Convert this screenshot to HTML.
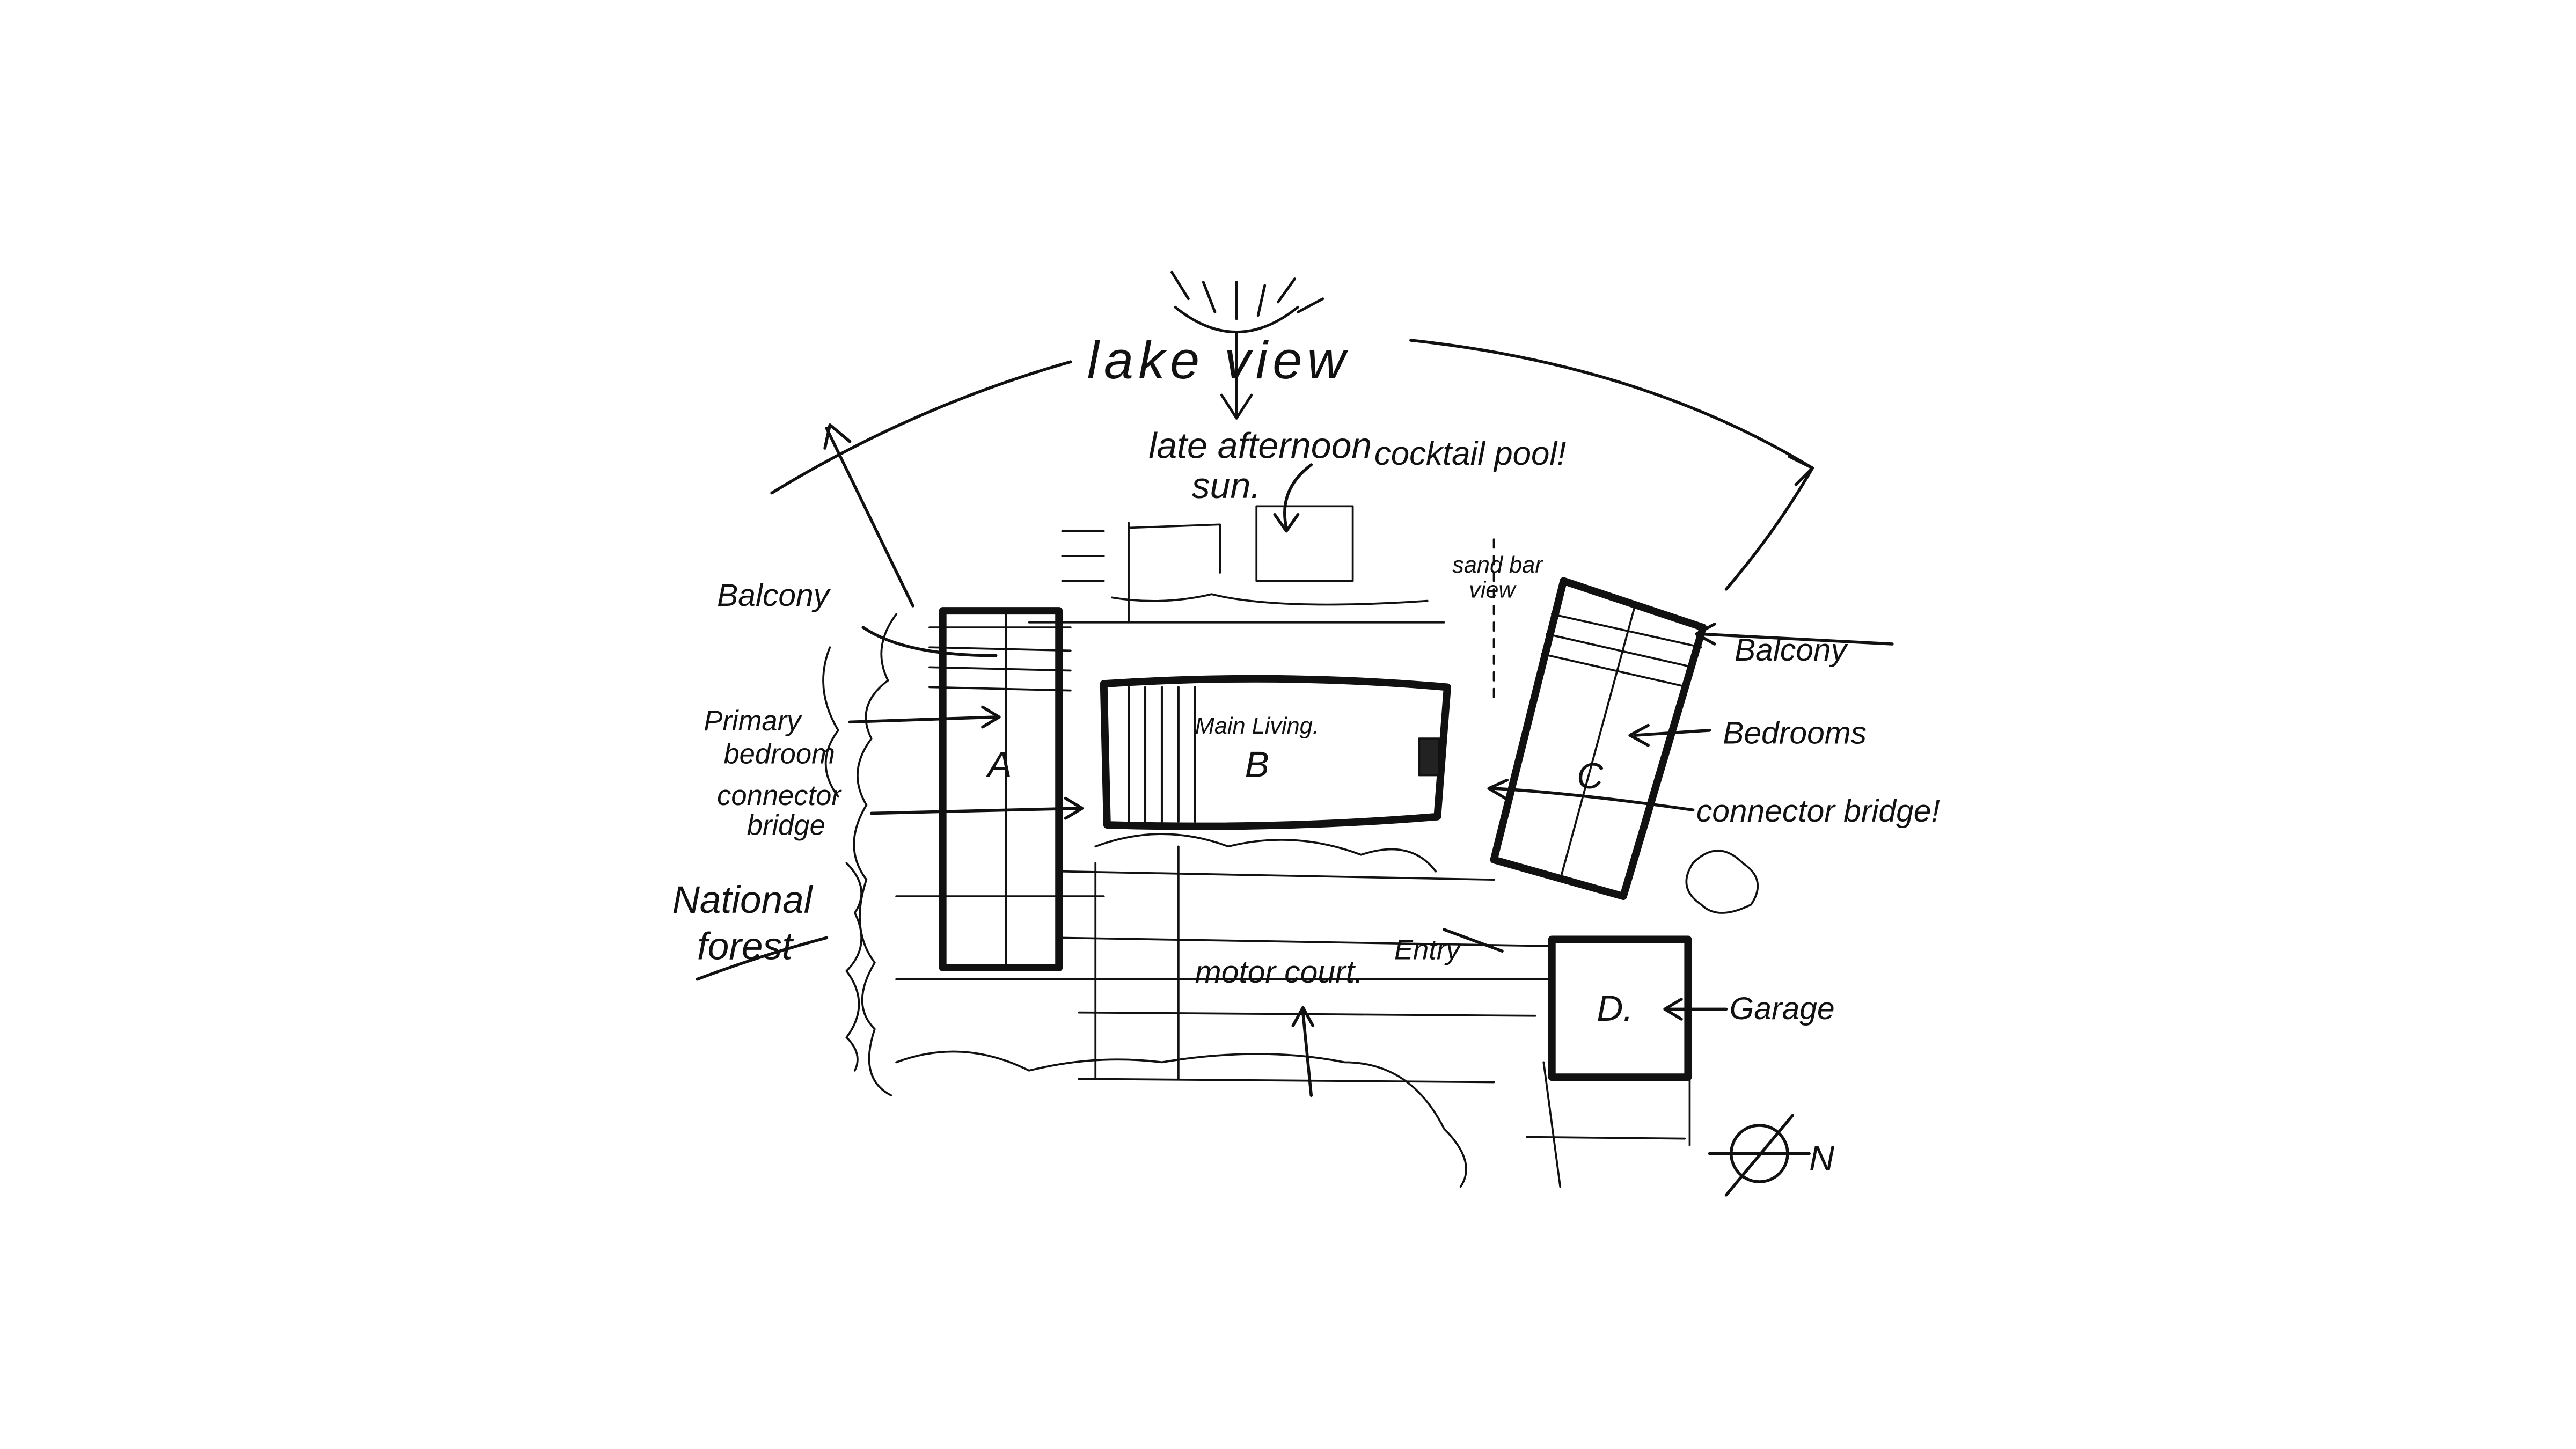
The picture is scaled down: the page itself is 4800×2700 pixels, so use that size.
<!DOCTYPE html>
<html><head><meta charset="utf-8"><style>
html,body{margin:0;padding:0;background:#fff;}
svg{display:block;}
text{font-family:"Liberation Sans",sans-serif;font-style:italic;fill:#111;}
</style></head><body>
<svg width="4800" height="2700" viewBox="0 0 1552 873" xmlns="http://www.w3.org/2000/svg">
<rect width="1552" height="873" fill="#fff"/>
<g fill="none" stroke="#111" stroke-linecap="round" stroke-linejoin="round">
<g stroke-width="1.6">
<path d="M708 185 Q745 215 782 185"/>
<line x1="706" y1="164" x2="716" y2="180"/><line x1="725" y1="170" x2="732" y2="188"/>
<line x1="745" y1="170" x2="745" y2="192"/><line x1="762" y1="172" x2="758" y2="190"/>
<line x1="780" y1="168" x2="770" y2="182"/><line x1="797" y1="180" x2="782" y2="188"/>
<line x1="745" y1="200" x2="745" y2="250"/><path d="M736 238 L745 252 L754 238"/>
</g>
<g stroke-width="1.8">
<path d="M465 297 Q550 245 645 218"/>
<path d="M850 205 Q990 220 1092 282 Q1070 320 1040 355"/>
<line x1="498" y1="258" x2="550" y2="365"/><path d="M497 270 L500 256 L512 266"/>
<path d="M1078 275 L1092 282 L1082 292"/>
</g>
<g stroke-width="4.5"><rect x="568" y="368" width="70" height="215"/></g>
<g stroke-width="1.2">
<line x1="606" y1="368" x2="606" y2="583"/>
<line x1="560" y1="378" x2="645" y2="378"/><line x1="560" y1="390" x2="645" y2="392"/>
<line x1="560" y1="402" x2="645" y2="404"/><line x1="560" y1="414" x2="645" y2="416"/>
<line x1="540" y1="540" x2="665" y2="540"/><line x1="540" y1="590" x2="935" y2="590"/>
<line x1="640" y1="565" x2="935" y2="570"/><line x1="620" y1="375" x2="870" y2="375"/>
<line x1="650" y1="610" x2="925" y2="612"/><line x1="650" y1="650" x2="900" y2="652"/>
<line x1="660" y1="520" x2="660" y2="650"/><line x1="710" y1="510" x2="710" y2="650"/>
<line x1="640" y1="320" x2="665" y2="320"/><line x1="640" y1="335" x2="665" y2="335"/>
<line x1="640" y1="350" x2="665" y2="350"/><line x1="680" y1="315" x2="680" y2="375"/>
<path d="M680 318 L735 316 L735 345"/><path d="M757 305 L757 350 L815 350 L815 305 Z"/>
<path d="M670 360 Q700 365 730 358 Q770 368 860 362"/>
<line x1="640" y1="525" x2="900" y2="530"/>
</g>
<g stroke-width="4.5"><path d="M665 412 Q770 405 872 414 L866 492 Q770 500 667 497 Z"/></g>
<g stroke-width="1.3">
<line x1="680" y1="414" x2="680" y2="495"/><line x1="690" y1="414" x2="690" y2="495"/>
<line x1="700" y1="414" x2="700" y2="495"/><line x1="710" y1="414" x2="710" y2="495"/>
<line x1="720" y1="414" x2="720" y2="495"/>
<rect x="855" y="445" width="12" height="22" fill="#222"/>
</g>
<g stroke-width="4.5"><path d="M942 350 L1026 378 L978 540 L900 518 Z"/></g>
<g stroke-width="1.2">
<line x1="985" y1="365" x2="940" y2="530"/>
<line x1="935" y1="370" x2="1025" y2="390"/><line x1="932" y1="382" x2="1020" y2="402"/>
<line x1="929" y1="394" x2="1017" y2="414"/>
<line x1="900" y1="325" x2="900" y2="420" stroke-dasharray="5 5"/>
</g>
<g stroke-width="4.5"><rect x="935" y="566" width="82" height="83"/></g>
<g stroke-width="1.2"><line x1="930" y1="640" x2="940" y2="715"/><line x1="1018" y1="650" x2="1018" y2="690"/>
<line x1="920" y1="685" x2="1015" y2="686"/></g>
<g stroke-width="1.2">
<path d="M540 370 q-15 20 -5 40 q-20 15 -10 35 q-15 20 -3 40 q-15 25 0 45 q-10 30 5 50 q-15 25 0 40 q-10 30 10 40"/>
<path d="M500 390 q-10 25 5 50 q-15 20 0 40"/>
<path d="M510 520 q15 15 5 30 q10 20 -5 35 q15 20 0 40 q10 10 5 20"/>
<path d="M540 640 q40 -15 80 5 q40 -10 80 -5 q60 -10 110 0 q40 0 60 40 q20 20 10 35"/>
<path d="M660 510 q40 -15 80 0 q40 -10 80 5 q30 -10 45 10"/>
<path d="M1020 520 q15 -15 30 0 q15 10 5 25 q-20 10 -30 0 q-15 -10 -5 -25"/>
</g>
<g stroke-width="1.8">
<path d="M520 378 Q545 395 600 395"/>
<path d="M512 435 L600 432"/><path d="M592 426 L602 432 L592 438"/>
<path d="M525 490 L650 487"/><path d="M642 481 L652 487 L642 493"/>
<path d="M1140 388 L1025 382"/><path d="M1033 376 L1022 382 L1033 388"/>
<path d="M1030 440 L985 443"/><path d="M993 437 L982 443 L993 449"/>
<path d="M1020 488 Q950 478 900 475"/><path d="M908 470 L897 475 L907 481"/>
<path d="M870 560 L905 573"/><path d="M1040 608 L1005 608"/><path d="M1013 602 L1003 608 L1013 614"/>
<path d="M790 280 Q770 295 775 318"/><path d="M768 310 L775 320 L782 310"/>
<path d="M790 660 L785 610"/><path d="M779 618 L785 607 L791 618"/>
<path d="M420 590 Q460 575 498 565"/>
<circle cx="1060" cy="695" r="17"/><line x1="1040" y1="720" x2="1080" y2="672"/><line x1="1030" y1="695" x2="1090" y2="695"/>
</g>
</g>
<g>
<text x="655" y="228" font-size="32" letter-spacing="3">lake  view</text>
<text x="692" y="276" font-size="22">late afternoon</text>
<text x="718" y="300" font-size="22">sun.</text>
<text x="828" y="280" font-size="20">cocktail pool!</text>
<text x="432" y="365" font-size="19">Balcony</text>
<text x="424" y="440" font-size="17">Primary</text>
<text x="436" y="460" font-size="17">bedroom</text>
<text x="432" y="485" font-size="17">connector</text>
<text x="450" y="503" font-size="17">bridge</text>
<text x="405" y="550" font-size="23">National</text>
<text x="420" y="578" font-size="23">forest</text>
<text x="595" y="468" font-size="22">A</text>
<text x="720" y="442" font-size="14">Main Living.</text>
<text x="750" y="468" font-size="22">B</text>
<text x="950" y="475" font-size="22">C</text>
<text x="962" y="615" font-size="22">D.</text>
<text x="875" y="345" font-size="14">sand bar</text>
<text x="885" y="360" font-size="14">view</text>
<text x="1045" y="398" font-size="19">Balcony</text>
<text x="1038" y="448" font-size="19">Bedrooms</text>
<text x="1022" y="495" font-size="19">connector bridge!</text>
<text x="840" y="578" font-size="17">Entry</text>
<text x="720" y="592" font-size="19">motor court.</text>
<text x="1042" y="614" font-size="19">Garage</text>
<text x="1090" y="705" font-size="21">N</text>
</g>
</svg>
</body></html>
